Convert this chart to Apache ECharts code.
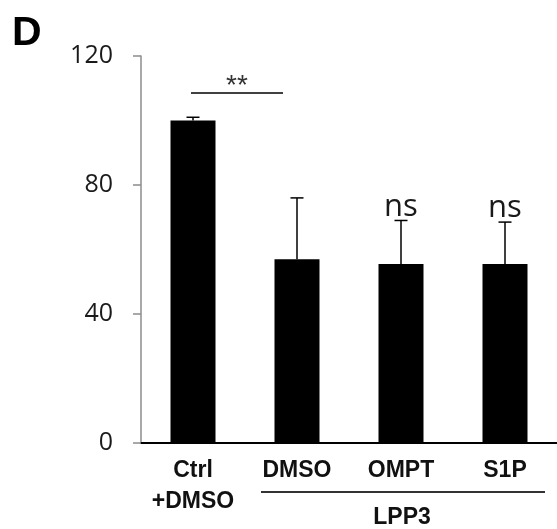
<!DOCTYPE html>
<html>
<head>
<meta charset="utf-8">
<script src="https://cdn.jsdelivr.net/npm/echarts@6/dist/echarts.min.js"></script>
<style>
html,body{margin:0;padding:0;background:#fff;}
#c{width:557px;height:529px;}
</style>
</head>
<body>
<div id="c"></div>
<script>
// ---- data ----
const categories = ['Ctrl\n+DMSO', 'DMSO', 'OMPT', 'S1P'];
const means = [100, 57, 55.5, 55.5];
const errors = [1, 19, 13.5, 13];
const sigLabels = ['', '', 'ns', 'ns'];
const bracketFrom = 0;
const bracketTo = 1;
const bracketLevel = 108.5;
const bracketText = '**';
const groupLabel = 'LPP3';
const groupFirst = 1;
const groupLast = 3;
const yMin = 0, yMax = 120, yInterval = 40;
const panelLetter = 'D';

const chart = echarts.init(document.getElementById('c'), null, {renderer: 'canvas'});

const errData = categories.map((c, i) => [i, means[i], errors[i], sigLabels[i]]);

const option = {
  animation: false,
  backgroundColor: '#fff',
  grid: {left: 141, top: 56, width: 422, bottom: 86, containLabel: false},
  xAxis: {
    type: 'category',
    data: categories,
    axisLine: {lineStyle: {color: '#000', width: 2}},
    axisTick: {show: false},
    axisLabel: {
      fontFamily: '"Liberation Sans", Arial, sans-serif',
      fontWeight: 'bold',
      fontSize: 23,
      lineHeight: 31,
      color: '#111',
      margin: 12,
      interval: 0
    },
    splitLine: {show: false}
  },
  yAxis: {
    type: 'value',
    min: yMin, max: yMax, interval: yInterval,
    axisLine: {show: true, lineStyle: {color: '#8c8c8c', width: 1.5}},
    axisTick: {show: true, inside: false, length: 8, lineStyle: {color: '#8c8c8c', width: 1.5}},
    axisLabel: {
      fontFamily: '"Open Sans", sans-serif',
      fontSize: 25,
      color: '#1a1a1a',
      margin: 28
    },
    splitLine: {show: false}
  },
  series: [
    {
      type: 'bar',
      data: means,
      barWidth: 45,
      itemStyle: {color: '#000'},
      z: 2
    },
    {
      type: 'custom',
      data: errData,
      z: 3,
      renderItem: function (params, api) {
        const x = api.value(0), m = api.value(1), e = api.value(2);
        const base = api.coord([x, m]);
        const top = api.coord([x, m + e]);
        const hw = 6.5;
        const children = [
          {type: 'line', shape: {x1: base[0], y1: base[1], x2: top[0], y2: top[1]}, style: {stroke: '#000', lineWidth: 1.5}},
          {type: 'line', shape: {x1: top[0] - hw, y1: top[1], x2: top[0] + hw, y2: top[1]}, style: {stroke: '#000', lineWidth: 1.5}}
        ];
        const lab = sigLabels[params.dataIndex];
        if (lab) {
          children.push({
            type: 'text',
            style: {
              text: lab, x: top[0], y: top[1] + 2,
              align: 'center', verticalAlign: 'bottom',
              font: '31px "Open Sans", sans-serif', fill: '#1a1a1a'
            }
          });
        }
        return {type: 'group', children: children};
      }
    },
    {
      type: 'custom',
      data: [[bracketFrom, bracketTo, bracketLevel]],
      z: 3,
      renderItem: function (params, api) {
        const p0 = api.coord([api.value(0), api.value(2)]);
        const p1 = api.coord([api.value(1), api.value(2)]);
        const x1 = p0[0] - 2, x2 = p1[0] - 14;
        return {
          type: 'group',
          children: [
            {type: 'line', shape: {x1: x1, y1: p0[1], x2: x2, y2: p0[1]}, style: {stroke: '#000', lineWidth: 1.5}},
            {type: 'text', style: {text: bracketText, x: (x1 + x2) / 2, y: p0[1] + 7, align: 'center', verticalAlign: 'bottom', font: '28px "Liberation Sans", Arial, sans-serif', fill: '#333'}}
          ]
        };
      }
    }
  ]
};

chart.setOption(option);

const pa = chart.convertToPixel({gridIndex: 0}, [groupFirst, 0]);
const pb = chart.convertToPixel({gridIndex: 0}, [groupLast, 0]);
const pMid = chart.convertToPixel({gridIndex: 0}, [(groupFirst + groupLast) / 2, 0]);
const axisY = pa[1];

chart.setOption({
  graphic: [
    {type: 'line', shape: {x1: pa[0] - 36, y1: axisY + 49, x2: pb[0] + 40, y2: axisY + 49}, style: {stroke: '#333', lineWidth: 2}},
    {type: 'text', style: {text: groupLabel, x: pMid[0] + 1, y: axisY + 75, align: 'center', verticalAlign: 'middle', font: 'bold 23px "Liberation Sans", Arial, sans-serif', fill: '#111'}},
    {type: 'text', style: {text: panelLetter, x: 12, y: 34, align: 'left', verticalAlign: 'middle', font: 'bold 41px "Liberation Sans", Arial, sans-serif', fill: '#000'}}
  ]
});
</script>
</body>
</html>
